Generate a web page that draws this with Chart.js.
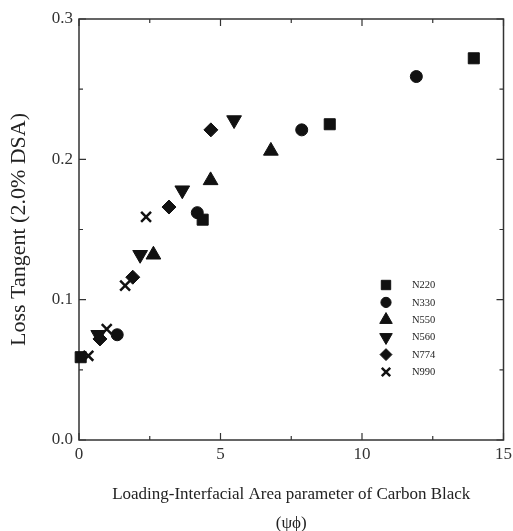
<!DOCTYPE html>
<html>
<head>
<meta charset="utf-8">
<script src="https://cdn.jsdelivr.net/npm/chart.js@4.4.0/dist/chart.umd.min.js"></script>
<style>
  html, body { margin: 0; padding: 0; background: #fff; }
  canvas { display: block; }
</style>
</head>
<body>
<canvas id="LossChart" width="513" height="531"></canvas>
<script>
// carbon black grades and their (psi*phi, loss tangent) readings
var grades = ['N220', 'N330', 'N550', 'N560', 'N774', 'N990'];
var n220 = [{x: 0.06, y: 0.059}, {x: 4.37, y: 0.157}, {x: 8.86, y: 0.225}, {x: 13.95, y: 0.272}];
var n330 = [{x: 1.35, y: 0.075}, {x: 4.18, y: 0.162}, {x: 7.87, y: 0.221}, {x: 11.92, y: 0.259}];
var n550 = [{x: 2.63, y: 0.132}, {x: 4.65, y: 0.185}, {x: 6.78, y: 0.206}];
var n560 = [{x: 0.68, y: 0.075}, {x: 2.16, y: 0.132}, {x: 3.65, y: 0.178}, {x: 5.48, y: 0.228}];
var n774 = [{x: 0.74, y: 0.072}, {x: 1.90, y: 0.116}, {x: 3.18, y: 0.166}, {x: 4.66, y: 0.221}];
var n990 = [{x: 0.33, y: 0.060}, {x: 0.98, y: 0.079}, {x: 1.63, y: 0.110}, {x: 2.37, y: 0.159}];
var xTitle = ['Loading-Interfacial Area parameter of Carbon Black', '(\u03c8\u03d5)'];
var yTitle = 'Loss Tangent (2.0% DSA)';

var ink = '#111';
var serif = "'Liberation Serif', 'Times New Roman', serif";

function series(label, data, style, radius, rotation, width) {
    return {
        label: label,
        data: data,
        pointStyle: style,
        pointRadius: radius,
        rotation: rotation || 0,
        pointBorderWidth: width || 1,
        backgroundColor: ink,
        borderColor: ink,
        showLine: false,
        clip: false
    };
}

// frame round the plot with inward major/minor ticks on all four sides
var boxFrame = {
    id: 'boxFrame',
    beforeDatasetsDraw: function (chart) {
        var a = chart.chartArea, ctx = chart.ctx;
        var xs = chart.scales.x, ys = chart.scales.y;
        ctx.save();
        ctx.strokeStyle = '#333';
        ctx.lineWidth = 1.5;
        ctx.strokeRect(a.left, a.top, a.right - a.left, a.bottom - a.top);
        ctx.lineWidth = 1.2;
        ctx.beginPath();
        for (var i = 0; i <= 6; i++) {
            var px = xs.getPixelForValue(xs.min + i * 2.5);
            var len = i % 2 === 0 ? 7 : 4;
            ctx.moveTo(px, a.bottom); ctx.lineTo(px, a.bottom - len);
            ctx.moveTo(px, a.top); ctx.lineTo(px, a.top + len);
        }
        for (var j = 0; j <= 6; j++) {
            var py = ys.getPixelForValue(ys.min + j * 0.05);
            var l2 = j % 2 === 0 ? 7 : 4;
            ctx.moveTo(a.left, py); ctx.lineTo(a.left + l2, py);
            ctx.moveTo(a.right, py); ctx.lineTo(a.right - l2, py);
        }
        ctx.stroke();
        ctx.restore();
    }
};

// small legend inside the plot, lower right
var innerLegend = {
    id: 'innerLegend',
    afterDatasetsDraw: function (chart) {
        var ctx = chart.ctx;
        var mx = 386, tx = 412, y0 = 285, gap = 17.4;
        ctx.save();
        ctx.fillStyle = ink;
        ctx.strokeStyle = ink;
        chart.data.datasets.forEach(function (ds, i) {
            var y = y0 + i * gap;
            ctx.lineWidth = ds.pointBorderWidth;
            Chart.helpers.drawPoint(ctx, {
                pointStyle: ds.pointStyle,
                rotation: ds.rotation,
                radius: ds.pointRadius * 0.85,
                borderWidth: ds.pointBorderWidth
            }, mx, y);
            ctx.fillStyle = '#222';
            ctx.font = '10.5px ' + serif;
            ctx.textBaseline = 'middle';
            ctx.textAlign = 'left';
            ctx.fillText(ds.label, tx, y + 0.5);
            ctx.fillStyle = ink;
        });
        ctx.restore();
    }
};

var ctx = document.getElementById('LossChart').getContext('2d');
var LossChart = new Chart(ctx, {
    type: 'scatter',
    data: {
        datasets: [
            series(grades[0], n220, 'rect', 7.8),
            series(grades[1], n330, 'circle', 6),
            series(grades[2], n550, 'triangle', 8.5),
            series(grades[3], n560, 'triangle', 8.5, 180),
            series(grades[4], n774, 'rectRot', 7),
            series(grades[5], n990, 'crossRot', 7, 0, 2.5)
        ]
    },
    plugins: [boxFrame, innerLegend],
    options: {
        responsive: false,
        animation: false,
        events: [],
        layout: { padding: { top: 19, right: 8, left: 0, bottom: 0 } },
        plugins: {
            legend: { display: false },
            tooltip: { enabled: false }
        },
        scales: {
            x: {
                type: 'linear',
                min: 0,
                max: 15,
                grid: { display: false, drawTicks: false },
                border: { display: false },
                ticks: {
                    stepSize: 5,
                    padding: 4,
                    color: '#333',
                    font: { family: serif, size: 17 },
                    maxRotation: 0
                },
                title: {
                    display: true,
                    text: xTitle,
                    color: '#222',
                    font: { family: serif, size: 17, lineHeight: '29px' },
                    padding: { top: 0, bottom: -7 }
                },
                afterFit: function (scale) {
                    scale.height = 91;
                    scale.paddingRight = 0;
                    scale.paddingLeft = 0;
                }
            },
            y: {
                type: 'linear',
                min: 0,
                max: 0.3,
                grid: { display: false, drawTicks: false },
                border: { display: false },
                ticks: {
                    stepSize: 0.1,
                    padding: 6,
                    color: '#333',
                    font: { family: serif, size: 17 },
                    callback: function (v) { return v.toFixed(1); }
                },
                title: {
                    display: true,
                    text: yTitle,
                    color: '#222',
                    font: { family: serif, size: 22, lineHeight: 1.2 },
                    padding: { top: 6, bottom: 0 }
                },
                afterFit: function (scale) { scale.width = 79; }
            }
        }
    }
});
</script>
</body>
</html>
